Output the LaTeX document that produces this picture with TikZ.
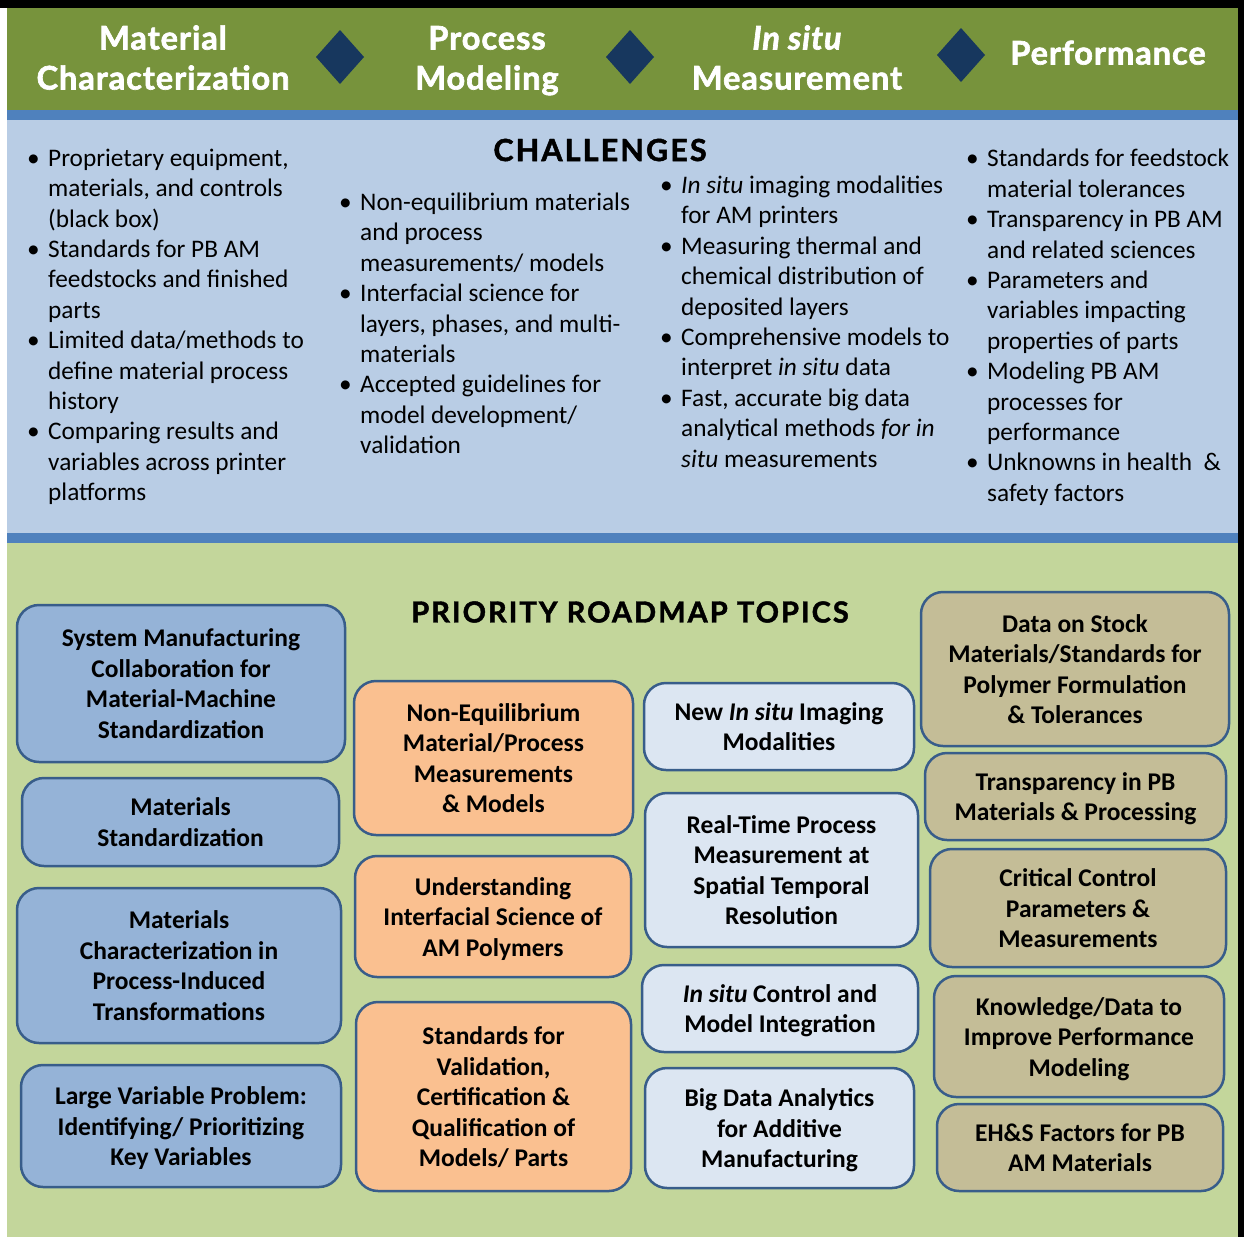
\documentclass[tikz,border=0pt]{standalone}
\usepackage{fontspec}
\setmainfont{Carlito}
\newfontfamily\hdrfont{Lato}[LetterSpace=3, FakeBold=2]
\newfontfamily\ttlfont{Lato}[LetterSpace=7, FakeBold=1.5]
\definecolor{hdrgreen}{HTML}{77933C}
\definecolor{navy}{HTML}{17375E}
\definecolor{stripe}{HTML}{4F81BD}
\definecolor{chalblue}{HTML}{B9CDE5}
\definecolor{roadgreen}{HTML}{C3D69B}
\definecolor{bordc}{HTML}{385D8A}
\definecolor{fblue}{HTML}{95B3D7}
\definecolor{forange}{HTML}{FAC090}
\definecolor{flight}{HTML}{DCE6F2}
\definecolor{ftan}{HTML}{C4BD97}
\newcommand\mybul{\makebox[21pt][l]{•}}
\newcommand\myind{\hspace*{21pt}}
\newcommand\bt{\rule{0pt}{27pt}}
\newcommand\bb{\rule[-9pt]{0pt}{9pt}}
\newcommand\hdtop{\rule{0pt}{28pt}}
\newcommand\hdbot{\rule[-12pt]{0pt}{12pt}}
\tikzset{
  hdr/.style={text=white, align=center, inner sep=0, font=\hdrfont\bfseries\fontsize{32.5}{40}\selectfont},
  secttl/.style={inner sep=0, font=\ttlfont\bfseries\fontsize{29}{34}\selectfont},
  blist/.style={anchor=north west, inner sep=0, align=left, font=\fontsize{25.3}{30.4}\selectfont, execute at begin node=\strut},
  rbox/.style={draw=bordc, line width=2.5pt, rounded corners=22pt, align=center, inner sep=0,
    font=\bfseries\fontsize{25.5}{30.5}\selectfont},
  bluebox/.style={rbox, fill=fblue},
  orangebox/.style={rbox, fill=forange},
  lightbox/.style={rbox, fill=flight},
  tanbox/.style={rbox, fill=ftan},
}
\begin{document}
\begin{tikzpicture}[x=1pt,y=-1pt]
\useasboundingbox (0,0) rectangle (1244,1237);
\fill[white] (0,0) rectangle (1244,1237);
\fill[black] (0,0) rectangle (1244,8);
\fill[black] (1238,0) rectangle (1244,1237);
\fill[hdrgreen] (7,8) rectangle (1238,110);
\fill[stripe] (7,110) rectangle (1238,120);
\fill[chalblue] (7,120) rectangle (1238,533);
\fill[stripe] (7,533) rectangle (1238,543);
\fill[roadgreen] (7,543) rectangle (1238,1237);

% header
\node[hdr] (h1) at (163,61.5) {\hdtop Material\\Characterization\hdbot};
\node[hdr] (h2) at (487,61.5) {\hdtop Process\\Modeling\hdbot};
\node[hdr] (h3) at (797,61.5) {\hdtop\itshape In situ\\Measurement\hdbot};
\node[hdr] (h4) at (1108,56.5) {\hdtop Performance\hdbot};
\fill[navy] (340,30) -- (364,57) -- (340,84) -- (316,57) -- cycle;
\fill[navy] (630,30) -- (654,57) -- (630,84) -- (606,57) -- cycle;
\fill[navy] (961,28) -- (985,55) -- (961,82) -- (937,55) -- cycle;

% challenges
\node[secttl, font=\ttlfont\bfseries\fontsize{30.5}{34}\selectfont] (chal) at (600,150) {CHALLENGES};
\node[blist] (c1) at (27,148.7) {\mybul Proprietary equipment,\\ \myind materials, and controls\\ \myind (black box)\\
\mybul Standards for PB AM\\ \myind feedstocks and finished\\ \myind parts\\
\mybul Limited data/methods to\\ \myind define material process\\ \myind history\\
\mybul Comparing results and\\ \myind variables across printer\\ \myind platforms};
\node[blist] (c2) at (339,192.7) {\mybul Non-equilibrium materials\\ \myind and process\\ \myind measurements/ models\\
\mybul Interfacial science for\\ \myind layers, phases, and multi-\\ \myind materials\\
\mybul Accepted guidelines for\\ \myind model development/\\ \myind validation};
\node[blist] (c3) at (660,175.7) {\mybul \textit{In situ} imaging modalities\\ \myind for AM printers\\
\mybul Measuring thermal and\\ \myind chemical distribution of\\ \myind deposited layers\\
\mybul Comprehensive models to\\ \myind interpret \textit{in situ} data\\
\mybul Fast, accurate big data\\ \myind analytical methods \textit{for in}\\ \myind \textit{situ} measurements};
\node[blist] (c4) at (966,149.2) {\mybul Standards for feedstock\\ \myind material tolerances\\
\mybul Transparency in PB AM\\ \myind and related sciences\\
\mybul Parameters and\\ \myind variables impacting\\ \myind properties of parts\\
\mybul Modeling PB AM\\ \myind processes for\\ \myind performance\\
\mybul Unknowns in health~~\&\\ \myind safety factors};

% roadmap
\node[secttl] (road) at (630,612) {PRIORITY ROADMAP TOPICS};
\node[bluebox, minimum width=328, minimum height=157] (b11) at (181,683.5) {\bt System Manufacturing\\Collaboration for\\Material-Machine\\Standardization\bb};
\node[bluebox, minimum width=317, minimum height=88] (b12) at (180.5,822) {\bt Materials\\Standardization\bb};
\node[bluebox, minimum width=324, minimum height=155] (b13) at (179,965.5) {\bt Materials\\Characterization in\\Process-Induced\\Transformations\bb};
\node[bluebox, minimum width=320, minimum height=122] (b14) at (181,1126) {\bt Large Variable Problem:\\Identifying/ Prioritizing\\Key Variables\bb};

\node[orangebox, minimum width=279, minimum height=154] (b21) at (493.5,758) {\bt Non-Equilibrium\\Material/Process\\Measurements\\\& Models\bb};
\node[orangebox, minimum width=276, minimum height=121] (b22) at (493,916.5) {\bt Understanding\\Interfacial Science of\\AM Polymers\bb};
\node[orangebox, minimum width=275, minimum height=189] (b23) at (493.5,1096.5) {\bt Standards for\\Validation,\\Certification \&\\Qualification of\\Models/ Parts\bb};

\node[lightbox, minimum width=270, minimum height=87] (b31) at (779,726.5) {\bt New \textit{In situ} Imaging\\Modalities\bb};
\node[lightbox, minimum width=273, minimum height=154] (b32) at (781.5,870) {\bt Real-Time Process\\Measurement at\\Spatial Temporal\\Resolution\bb};
\node[lightbox, minimum width=276, minimum height=87] (b33) at (780,1008.5) {\bt\textit{In situ} Control and\\Model Integration\bb};
\node[lightbox, minimum width=269, minimum height=120] (b34) at (779.5,1128) {\bt Big Data Analytics\\for Additive\\Manufacturing\bb};

\node[tanbox, minimum width=308, minimum height=154] (b41) at (1075,669) {\bt Data on Stock\\Materials/Standards for\\Polymer Formulation\\\& Tolerances\bb};
\node[tanbox, minimum width=301, minimum height=87] (b42) at (1075.5,796.5) {\bt Transparency in PB\\Materials \& Processing\bb};
\node[tanbox, minimum width=296, minimum height=118] (b43) at (1078,908) {\bt Critical Control\\Parameters \&\\Measurements\bb};
\node[tanbox, minimum width=290, minimum height=121] (b44) at (1079,1036.5) {\bt Knowledge/Data to\\Improve Performance\\Modeling\bb};
\node[tanbox, minimum width=286, minimum height=87] (b45) at (1080,1147.5) {\bt EH\&S Factors for PB\\AM Materials\bb};
\end{tikzpicture}
\end{document}
